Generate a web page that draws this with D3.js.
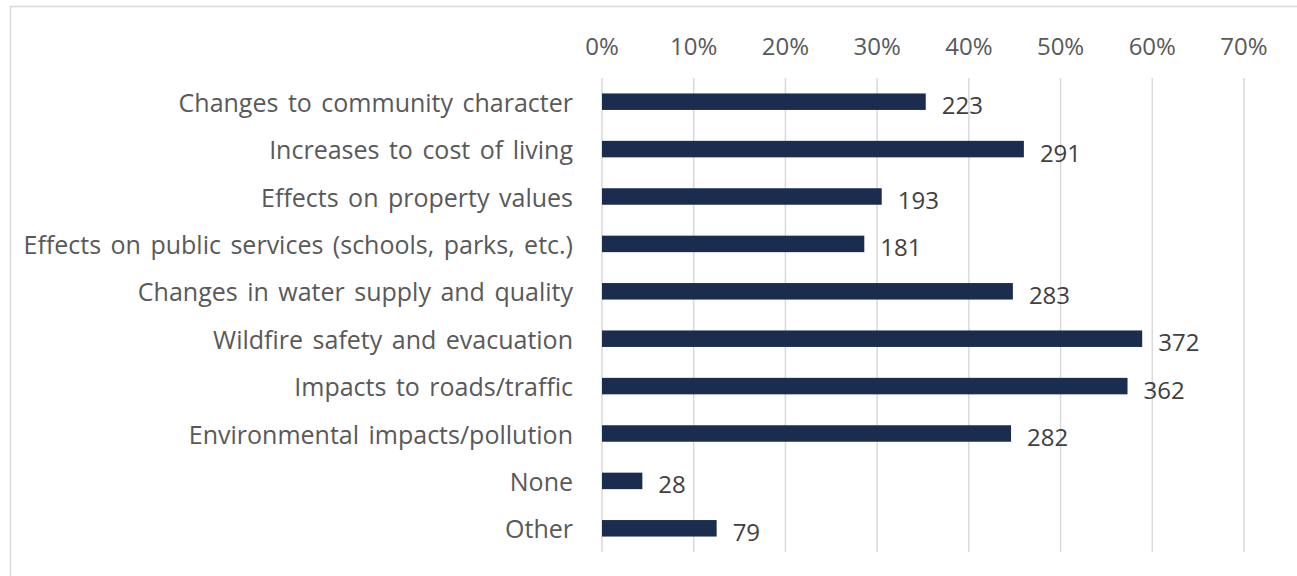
<!DOCTYPE html>
<head>
  <meta charset="UTF-8">
  <style>
    *{ margin: 0px; }
    body{ background-color: white; }
    svg{ position: absolute; font-family: "Open Sans"; }
  </style>
  <script src="https://d3js.org/d3.v7.min.js"></script>
</head>
<body>
  <svg id="chart" width="1297" height="576"></svg>
  <script>
    var categories = ["Changes to community character", "Increases to cost of living",
      "Effects on property values", "Effects on public services (schools, parks, etc.)",
      "Changes in water supply and quality", "Wildfire safety and evacuation",
      "Impacts to roads/traffic", "Environmental impacts/pollution", "None", "Other"];
    // share of respondents (bar length) and count shown as label
    var shares = [0.353, 0.460, 0.305, 0.286, 0.448, 0.589, 0.573, 0.446, 0.044, 0.125];
    var counts = [223, 291, 193, 181, 283, 372, 362, 282, 28, 79];
    var ticks = [0, 0.1, 0.2, 0.3, 0.4, 0.5, 0.6, 0.7];

    var svg = d3.select("#chart");

    // chart frame (top and left edges visible)
    svg.append("path")
      .attr("d", "M10.5,576 V6.5 H1297")
      .attr("fill", "none")
      .attr("stroke", "#d9d9d9")
      .attr("stroke-width", "1.5px");

    var x = d3.scaleLinear().domain([0, 0.7]).range([602, 1244]);
    var y = d3.scaleBand().domain(categories).range([78, 552])
      .paddingInner(0.652).paddingOuter(0.326);

    // gridlines
    svg.append("g")
      .selectAll("line")
      .data(ticks)
      .enter()
      .append("line")
      .attr("x1", d => x(d)).attr("x2", d => x(d))
      .attr("y1", 78).attr("y2", 552)
      .attr("stroke", "#d9d9d9")
      .attr("stroke-width", "1.5px");

    // top axis labels
    svg.append("g")
      .selectAll("text")
      .data(ticks)
      .enter()
      .append("text")
      .attr("x", d => x(d))
      .attr("y", 45)
      .attr("text-anchor", "middle")
      .attr("dominant-baseline", "central")
      .attr("fill", "#595959")
      .attr("font-size", "24px")
      .text(d => d3.format(".0%")(d));

    // category labels
    svg.append("g")
      .selectAll("text")
      .data(categories)
      .enter()
      .append("text")
      .attr("x", 573)
      .attr("y", d => y(d) + y.bandwidth() / 2)
      .attr("text-anchor", "end")
      .attr("dominant-baseline", "central")
      .attr("fill", "#595959")
      .attr("font-size", "25px")
      .attr("word-spacing", "3px")
      .text(d => d);

    // bars
    svg.append("g")
      .selectAll("rect")
      .data(categories)
      .enter()
      .append("rect")
      .attr("x", x(0))
      .attr("y", d => y(d))
      .attr("width", (d, i) => x(shares[i]) - x(0))
      .attr("height", y.bandwidth())
      .attr("fill", "#1b2d4f");

    // value labels
    svg.append("g")
      .selectAll("text")
      .data(categories)
      .enter()
      .append("text")
      .attr("x", (d, i) => x(shares[i]) + 16)
      .attr("y", d => y(d) + y.bandwidth() / 2 + 3)
      .attr("dominant-baseline", "central")
      .attr("fill", "#404040")
      .attr("font-size", "24px")
      .text((d, i) => counts[i]);
  </script>
</body>
